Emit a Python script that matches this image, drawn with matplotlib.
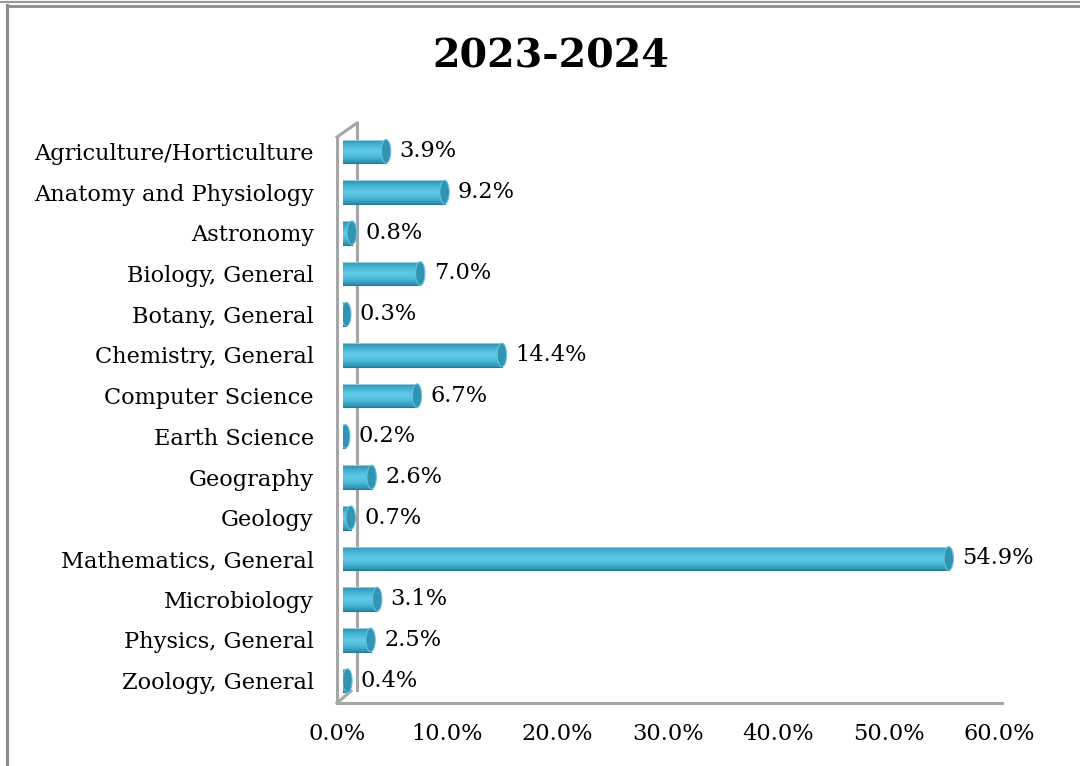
import matplotlib
matplotlib.use("Agg")
import matplotlib.pyplot as plt
import matplotlib.transforms as mtransforms
import numpy as np
from matplotlib.patches import Rectangle, Ellipse
from matplotlib.lines import Line2D

# Share of courses by subject, 2023-2024 (percent)
subjects = [
    "Agriculture/Horticulture",
    "Anatomy and Physiology",
    "Astronomy",
    "Biology, General",
    "Botany, General",
    "Chemistry, General",
    "Computer Science",
    "Earth Science",
    "Geography",
    "Geology",
    "Mathematics, General",
    "Microbiology",
    "Physics, General",
    "Zoology, General",
]
shares = [3.9, 9.2, 0.8, 7.0, 0.3, 14.4, 6.7, 0.2, 2.6, 0.7, 54.9, 3.1, 2.5, 0.4]
x_ticks = [0, 10, 20, 30, 40, 50, 60]

W, H = 1080, 766
FONT = "DejaVu Serif"
LABEL_SIZE = 16.2

fig = plt.figure(figsize=(W / 100, H / 100), dpi=100)
fig.patch.set_facecolor("white")

# axes placed in pixel terms
ax_left, ax_right, ax_top, ax_bottom = 343, 1005, 131, 701
ax = fig.add_axes([ax_left / W, 1 - ax_bottom / H,
                   (ax_right - ax_left) / W, (ax_bottom - ax_top) / H])
ax.set_facecolor("none")

n = len(subjects)
ypos = np.arange(n)
bar_h = 0.58
cap_w = 0.85  # data units for the cylinder end

grad = np.linspace(0, 1, 64).reshape(-1, 1)
cmap = matplotlib.colors.LinearSegmentedColormap.from_list(
    "cyl", ["#2f8fad", "#47b6d6", "#62cbe7", "#4ab9d8", "#2c8cab"])

for y, v in zip(ypos, shares):
    body = Rectangle((0, y - bar_h / 2), v, bar_h, facecolor="none",
                     edgecolor="none")
    ax.add_patch(body)
    im = ax.imshow(grad, extent=[0, v, y + bar_h / 2, y - bar_h / 2],
                   cmap=cmap, aspect="auto", zorder=3, interpolation="bilinear")
    im.set_clip_path(body)
    # top/bottom outline of the cylinder
    ax.plot([0, v], [y - bar_h / 2, y - bar_h / 2], color="#a8d8e6", lw=0.6, zorder=4)
    ax.plot([0, v], [y + bar_h / 2, y + bar_h / 2], color="#2a7893", lw=0.8, zorder=4)
    cap = Ellipse((v, y), cap_w, bar_h, facecolor="#3293b2",
                  edgecolor="#62c3de", lw=0.8, zorder=5)
    ax.add_patch(cap)
    ax.text(v + cap_w / 2 + 0.8, y, f"{v:.1f}%", va="center", ha="left",
            fontsize=LABEL_SIZE, family=FONT, color="black", zorder=6)

ax.set_xlim(0, 60)
ax.set_ylim(n - 0.5, -0.5)
ax.set_yticks(ypos)
ax.set_yticklabels(subjects, family=FONT, fontsize=LABEL_SIZE)
ax.set_xticks(x_ticks)
ax.set_xticklabels([f"{t:.1f}%" for t in x_ticks], family=FONT, fontsize=LABEL_SIZE)
ax.tick_params(axis="y", length=0, pad=21)
ax.tick_params(axis="x", length=0, pad=16)
# the floor sits in front of the bars, so its labels shift left a little
shift = mtransforms.ScaledTranslation(-6 / 100, 0, fig.dpi_scale_trans)
for lbl in ax.get_xticklabels():
    lbl.set_transform(lbl.get_transform() + shift)
for s in ax.spines.values():
    s.set_visible(False)

# side wall and floor of the 3D frame, drawn in pixel coords
def px_line(xs, ys, **kw):
    fig.add_artist(Line2D([x / W for x in xs], [1 - y / H for y in ys],
                          transform=fig.transFigure, **kw))

wall = dict(color="#a6a6a6", lw=2.2, zorder=-1)
px_line([337, 337], [137, 703], **wall)
px_line([357, 357], [123, 690], **wall)
px_line([337, 357], [137, 123], **wall)
px_line([337, 351], [703, 691], **wall)
px_line([337, 1002], [703, 703], **wall)

# outer frame
px_line([7, 7], [5, H], color="#8a8a8a", lw=2.2)
px_line([7, W], [5.5, 5.5], color="#8a8a8a", lw=2.0)
px_line([0, W], [1.5, 1.5], color="#9a9a9a", lw=1.6)

fig.text(551 / W, 1 - 56 / H, "2023-2024", ha="center", va="center",
         fontsize=28.5, fontweight="bold", family=FONT)

fig.savefig("out.png", dpi=100)
